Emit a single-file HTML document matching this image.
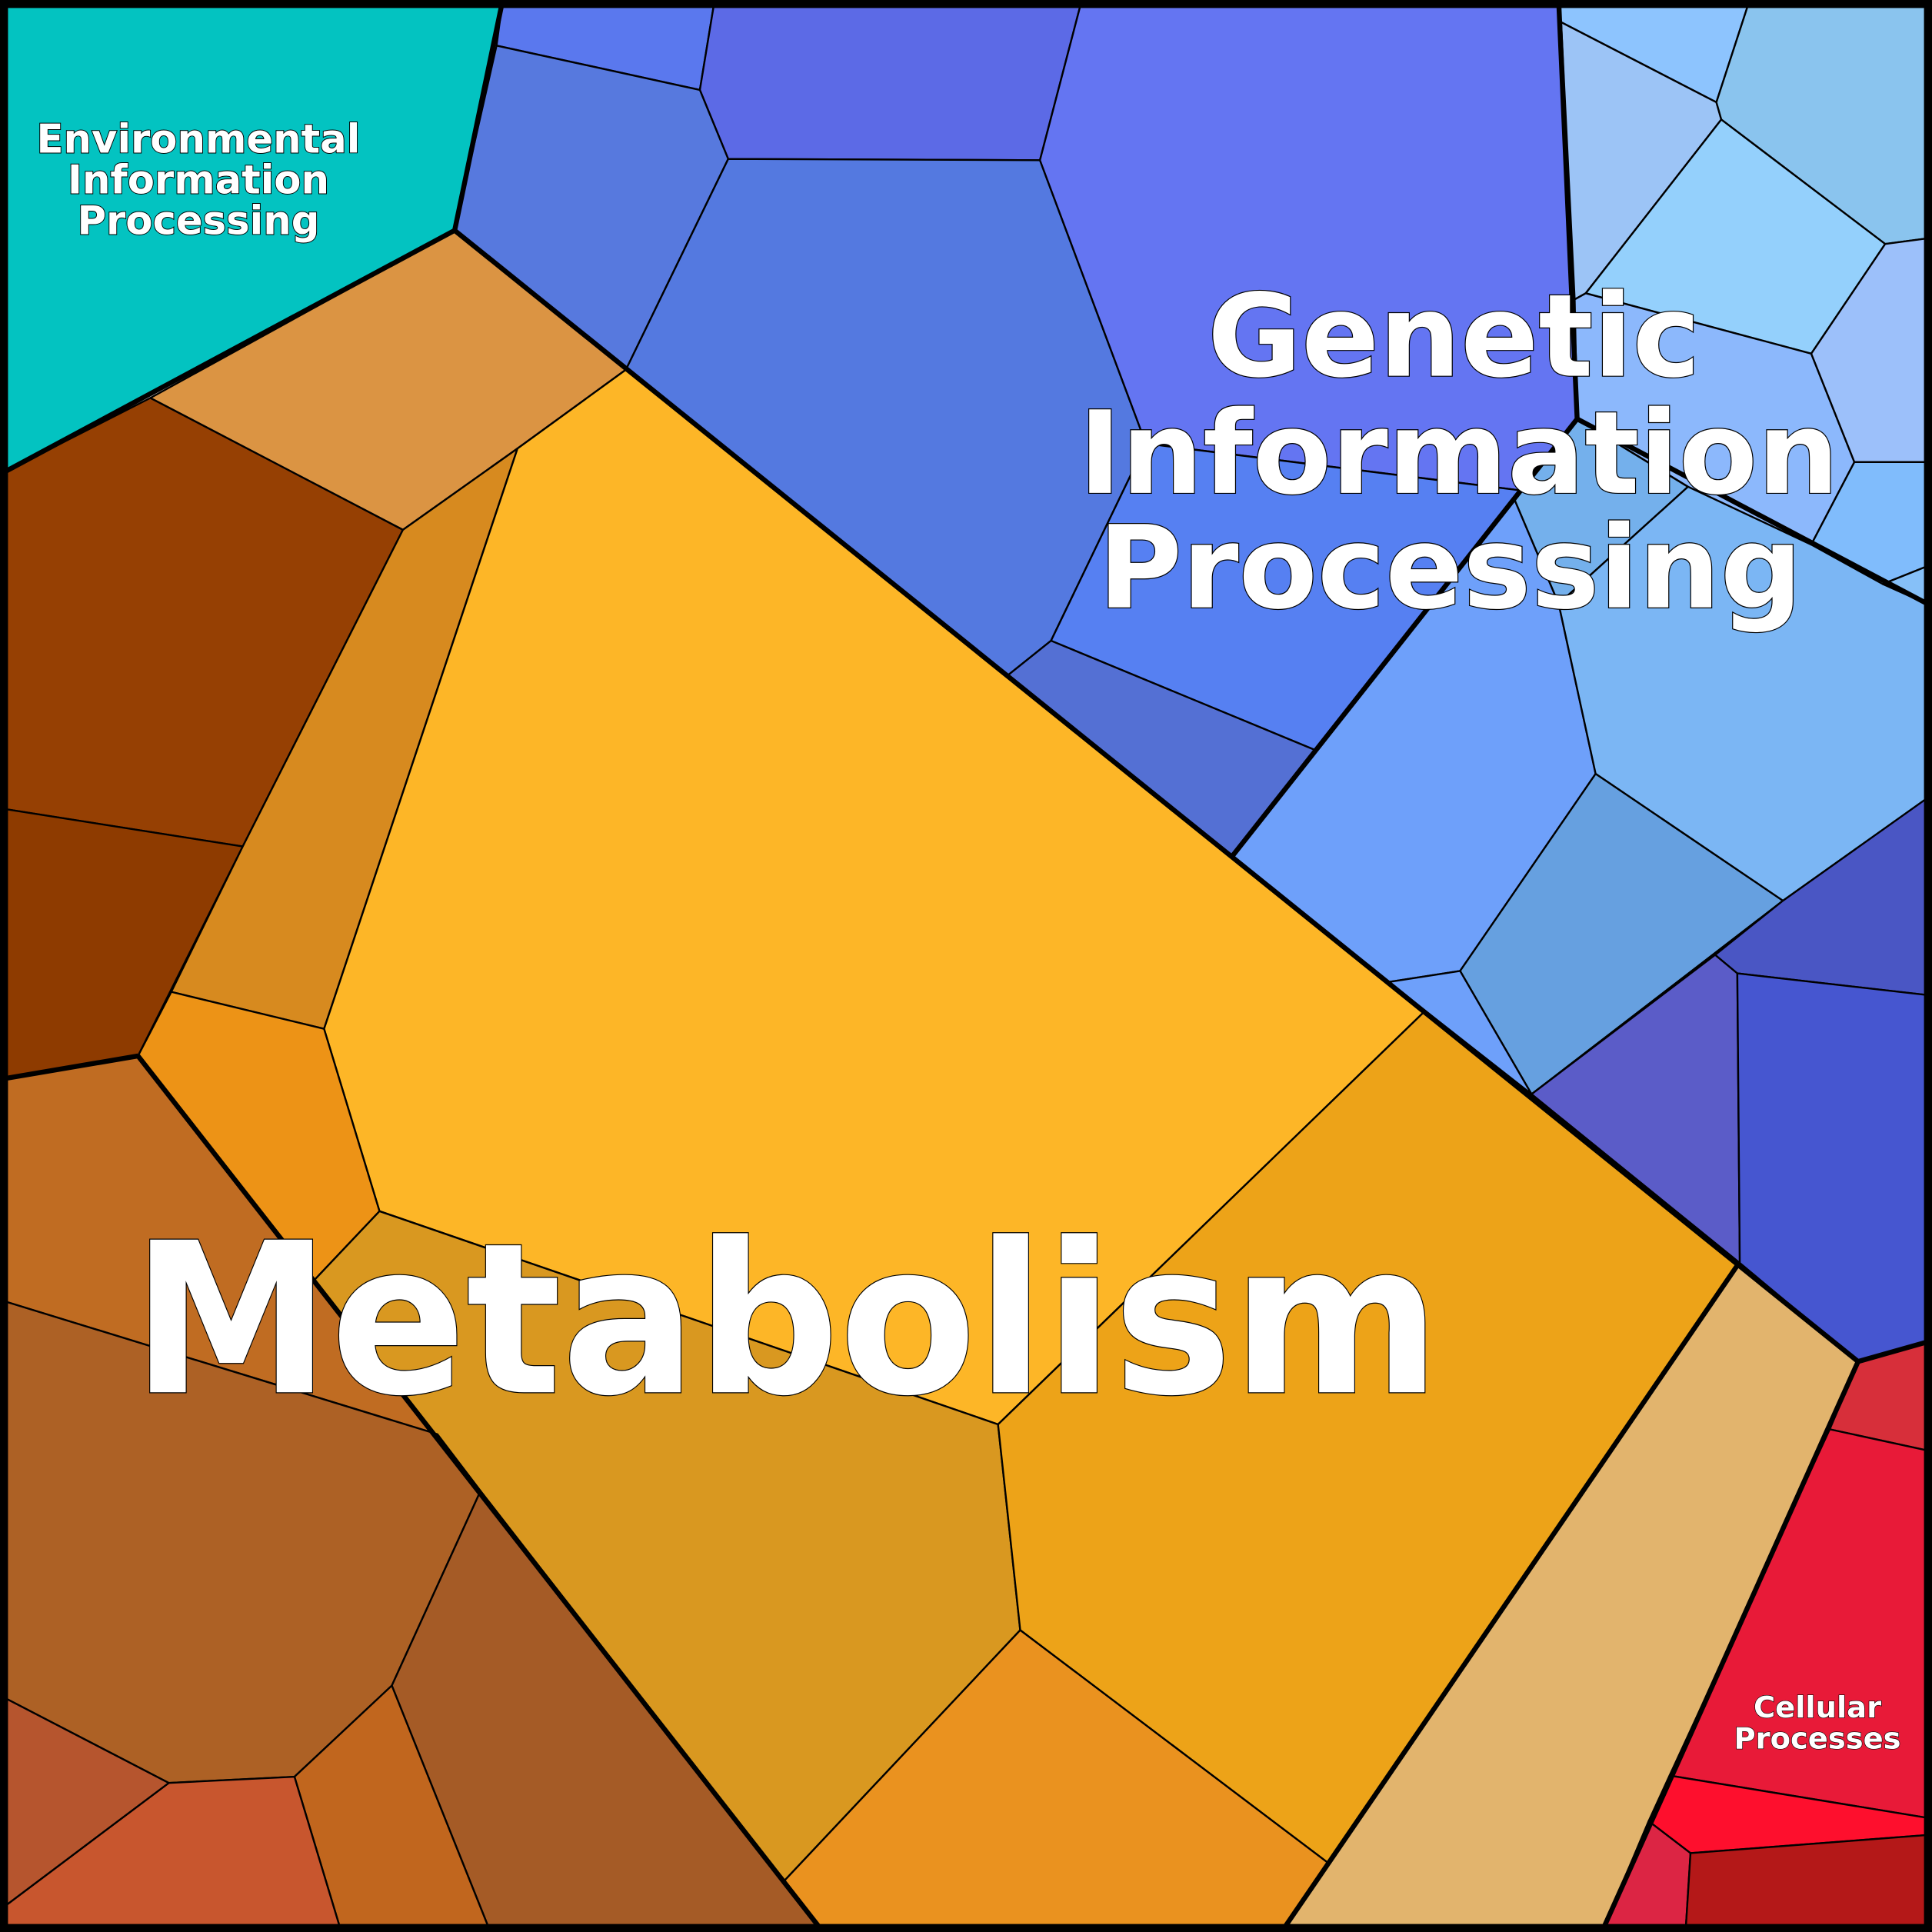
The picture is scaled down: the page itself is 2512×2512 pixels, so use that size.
<!DOCTYPE html>
<html><head><meta charset="utf-8"><style>
html,body{margin:0;padding:0;background:#fff}
svg{display:block}
text{font-family:"DejaVu Sans","Liberation Sans",sans-serif;font-weight:bold;fill:#fff;stroke:#000;paint-order:stroke;text-anchor:middle}
</style></head><body>
<svg width="2512" height="2512" viewBox="0 0 1568 1568" xmlns="http://www.w3.org/2000/svg">
<g stroke="#000" stroke-width="1.5" stroke-linejoin="round">
<polygon fill="#03C3C1" points="0,0 408,0 369,187 0,385"/>
<polygon fill="#DB9443" points="122,323 369,187 508,300 420,364 327,430"/>
<polygon fill="#964003" points="0,385 122,323 327,430 197,687 0,656"/>
<polygon fill="#8E3B00" points="0,656 197,687 112,857 0,876"/>
<polygon fill="#D78A1F" points="327,430 420,364 263,835 139,805 197,687"/>
<polygon fill="#FDB627" points="420,364 508,300 1155,822 810,1156 308,983 263,835"/>
<polygon fill="#ED9316" points="139,805 263,835 308,983 255,1039 112,857"/>
<polygon fill="#C06C22" points="0,876 112,857 255,1039 355,1164 0,1055"/>
<polygon fill="#D99820" points="255,1039 308,983 810,1156 828,1323 636,1527"/>
<polygon fill="#AD6125" points="0,1055 355,1164 390,1210 318,1368 239,1442 137,1447 0,1376"/>
<polygon fill="#A55B26" points="390,1210 668,1568 398,1568 318,1368"/>
<polygon fill="#C1661E" points="239,1442 318,1368 398,1568 277,1568"/>
<polygon fill="#C8562E" points="0,1550 137,1447 239,1442 277,1568 0,1568"/>
<polygon fill="#B6552E" points="0,1376 137,1447 0,1550"/>
<polygon fill="#EDA318" points="810,1156 1155,822 1243,888 1410,1027 1078,1512 828,1323"/>
<polygon fill="#EA921F" points="636,1527 828,1323 1078,1512 1040,1568 668,1568"/>
<polygon fill="#E2B46D" points="1040,1568 1410,1027 1508,1105 1300,1568"/>
<polygon fill="#5A78EE" points="408,0 580,0 568,73 403,37"/>
<polygon fill="#5C6AE6" points="580,0 878,0 844,130 591,129 568,73"/>
<polygon fill="#5779DE" points="403,37 568,73 591,129 508,300 369,187"/>
<polygon fill="#5479E0" points="591,129 844,130 930,360 853,520 818,548 508,300"/>
<polygon fill="#6475F2" points="878,0 1265,0 1278,243 1280,340 1234,398 930,360 844,130"/>
<polygon fill="#5680F2" points="930,360 1234,398 1068,609 853,520"/>
<polygon fill="#5470D4" points="818,548 853,520 1068,609 1000,695"/>
<polygon fill="#6EA0FA" points="1000,695 1229,405 1265,490 1295,628 1185,788 1127,797"/>
<polygon fill="#74B0EC" points="1229,405 1280,340 1370,395 1265,490"/>
<polygon fill="#7BB6F4" points="1280,340 1568,492 1568,645 1447,731 1295,628 1265,490 1370,395"/>
<polygon fill="#66A0E0" points="1185,788 1295,628 1447,731 1243,888"/>
<polygon fill="#6EA0FA" points="1127,797 1185,788 1243,888"/>
<polygon fill="#8DC4FE" points="1265,0 1420,0 1393,83 1267,18"/>
<polygon fill="#9CC4F6" points="1267,18 1393,83 1397,97 1287,238 1278,243"/>
<polygon fill="#8AC4EE" points="1420,0 1568,0 1568,193 1530,198 1397,97 1393,83"/>
<polygon fill="#94D0FC" points="1397,97 1530,198 1470,287 1287,238"/>
<polygon fill="#8CB8FC" points="1287,238 1470,287 1505,375 1470,442 1370,395 1280,340 1278,243"/>
<polygon fill="#9CC0FA" points="1530,198 1568,193 1568,375 1505,375 1470,287"/>
<polygon fill="#80BCFC" points="1505,375 1568,375 1568,458 1528,474 1470,442"/>
<polygon fill="#86C0F8" points="1528,474 1568,458 1568,492"/>
<polygon fill="#4A56C4" points="1447,731 1568,645 1568,808 1410,790 1392,775"/>
<polygon fill="#5B5CC8" points="1243,888 1392,775 1410,790 1412,1025"/>
<polygon fill="#4656D0" points="1410,790 1568,808 1568,1088 1508,1105 1412,1025"/>
<polygon fill="#D72F3A" points="1508,1105 1568,1088 1568,1178 1485,1160"/>
<polygon fill="#E81A38" points="1485,1160 1568,1178 1568,1476 1355,1441"/>
<polygon fill="#FE0F2D" points="1355,1441 1568,1476 1568,1489 1372,1504 1338,1478"/>
<polygon fill="#DC2544" points="1338,1478 1372,1504 1368,1568 1300,1568"/>
<polygon fill="#B41818" points="1372,1504 1568,1489 1568,1568 1368,1568"/>
</g>
<g fill="none" stroke="#000" stroke-width="4" stroke-linejoin="round">
<polyline points="408,0 369,187 0,385"/>
<polyline points="369,187 1508,1105 1300,1568"/>
<polyline points="1508,1105 1568,1088"/>
<polyline points="1265,0 1280,340 1000,695"/>
<polyline points="1280,340 1568,492"/>
<polyline points="112,857 668,1568"/>
<polyline points="0,876 112,857"/>
<polyline points="1040,1568 1410,1027"/>
</g>
<rect x="3" y="3" width="1562" height="1562" fill="none" stroke="#000" stroke-width="7"/>
<g stroke-width="1.2">
<text x="161" y="124" font-size="32">Environmental</text>
<text x="161" y="157" font-size="32">Information</text>
<text x="161" y="190" font-size="32">Processing</text>
</g>
<g stroke-width="1.5">
<text x="1180" y="305" font-size="93">Genetic</text>
<text x="1184" y="400" font-size="93">Information</text>
<text x="1177" y="493" font-size="93">Processing</text>
</g>
<text x="638" y="1130" font-size="170" stroke-width="1.5" textLength="1062" lengthAdjust="spacingAndGlyphs">Metabolism</text>
<g stroke-width="0.8">
<text x="1475" y="1394" font-size="24">Cellular</text>
<text x="1475" y="1419" font-size="24">Processes</text>
</g>
</svg>
</body></html>
